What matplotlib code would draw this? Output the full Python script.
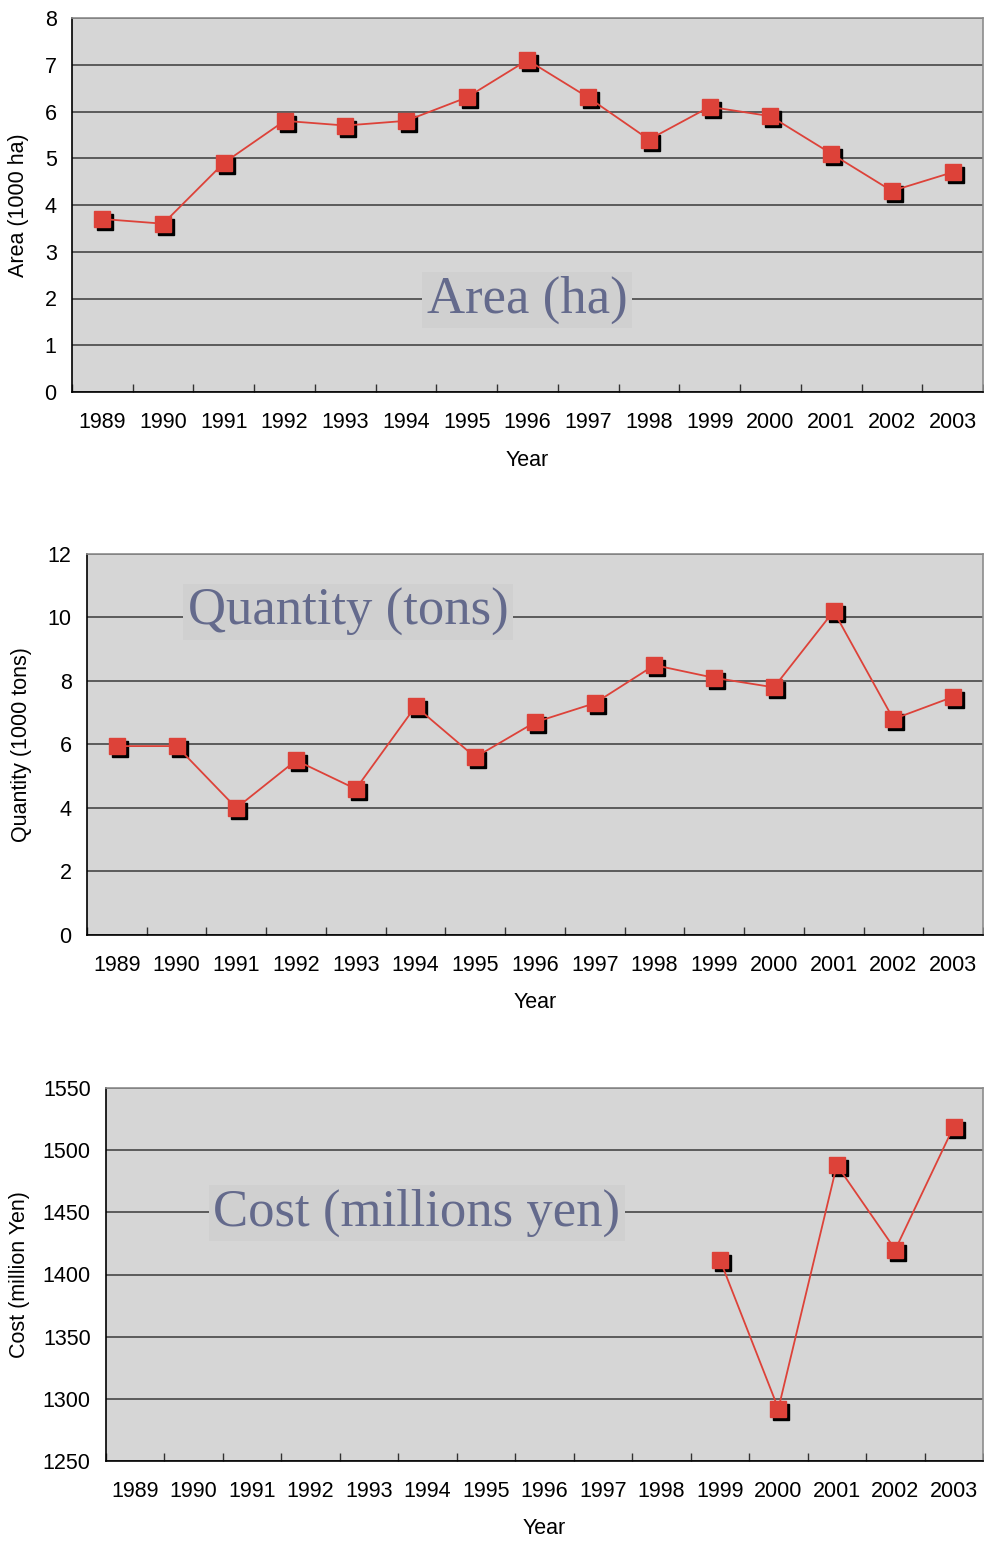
import numpy as np
import matplotlib
matplotlib.use('Agg')
import matplotlib.pyplot as plt
from matplotlib.transforms import offset_copy

# data
years = ['1989', '1990', '1991', '1992', '1993', '1994', '1995', '1996',
         '1997', '1998', '1999', '2000', '2001', '2002', '2003']
area = [3.7, 3.6, 4.9, 5.8, 5.7, 5.8, 6.3, 7.1, 6.3, 5.4, 6.1, 5.9, 5.1, 4.3, 4.7]
quantity = [5.95, 5.95, 4.0, 5.5, 4.6, 7.2, 5.6, 6.7, 7.3, 8.5, 8.1, 7.8, 10.2, 6.8, 7.5]
cost = [np.nan] * 10 + [1412, 1292, 1488, 1420, 1519]

# style
bg_color = '#d6d6d6'
red = '#dd4239'
label_color = '#646a8c'
W, H = 984, 1542
fs = 15.5

plt.rcParams['font.family'] = ['Liberation Sans', 'DejaVu Sans']

fig = plt.figure(figsize=(W / 100, H / 100), dpi=100)


def make_panel(px_box, values, ylim, yticks, ylabel, ylabel_x, title, title_xy):
    left, top, right, bottom = px_box
    ax = fig.add_axes([left / W, 1 - bottom / H, (right - left) / W, (bottom - top) / H])
    ax.set_facecolor(bg_color)
    x = np.arange(len(years))

    # shadow markers, offset a few pixels right/down
    shadow = offset_copy(ax.transData, fig=fig, x=3, y=-3, units='dots')
    ax.plot(x, values, linestyle='none', marker='s', markersize=12,
            color='black', transform=shadow, zorder=3)
    ax.plot(x, values, color=red, linewidth=1.3, zorder=4)
    ax.plot(x, values, linestyle='none', marker='s', markersize=12,
            color=red, zorder=5)

    ax.set_xlim(-0.5, len(years) - 0.5)
    ax.set_ylim(*ylim)
    ax.set_yticks(yticks)
    ax.yaxis.grid(True, color='#3a3a3a', linewidth=1.1)
    ax.set_axisbelow(True)

    ax.set_xticks(x)
    ax.set_xticklabels(years)
    ax.set_xticks(np.arange(len(years) + 1) - 0.5, minor=True)
    ax.tick_params(axis='x', which='major', length=0, pad=14.5, labelsize=fs)
    ax.tick_params(axis='x', which='minor', direction='in', length=6,
                   width=1, color='#333333')
    ax.tick_params(axis='y', length=0, pad=11, labelsize=fs)

    for s in ['top', 'right']:
        ax.spines[s].set_color('#8c8c8c')
        ax.spines[s].set_linewidth(1.2)
    for s in ['left', 'bottom']:
        ax.spines[s].set_color('black')
        ax.spines[s].set_linewidth(1.2)

    ax.set_xlabel('Year', fontsize=fs)
    ax.set_ylabel(ylabel, fontsize=fs)
    ax.xaxis.set_label_coords(0.5, -68 / (bottom - top))
    ax.xaxis.label.set_va('center')
    ax.yaxis.set_label_coords((ylabel_x - left) / (right - left), 0.5)
    ax.yaxis.label.set_va('center')

    tx = (title_xy[0] - left) / (right - left)
    ty = (bottom - title_xy[1]) / (bottom - top)
    ax.text(tx, ty, title, transform=ax.transAxes, ha='center', va='center',
            fontsize=38, family='Liberation Serif', color=label_color, zorder=2,
            bbox=dict(facecolor='#d0d0d0', edgecolor='none', pad=3))
    return ax


make_panel((72, 18, 983, 392), area, (0, 8), range(0, 9),
           'Area (1000 ha)', 18, 'Area (ha)', (527, 300))
make_panel((87, 554, 983, 935), quantity, (0, 12), range(0, 13, 2),
           'Quantity (1000 tons)', 22, 'Quantity (tons)', (348, 612))
make_panel((106, 1088, 983, 1461), cost, (1250, 1550), range(1250, 1551, 50),
           'Cost (million Yen)', 20, 'Cost (millions yen)', (417, 1213))

plt.savefig('out.png', dpi=100)
